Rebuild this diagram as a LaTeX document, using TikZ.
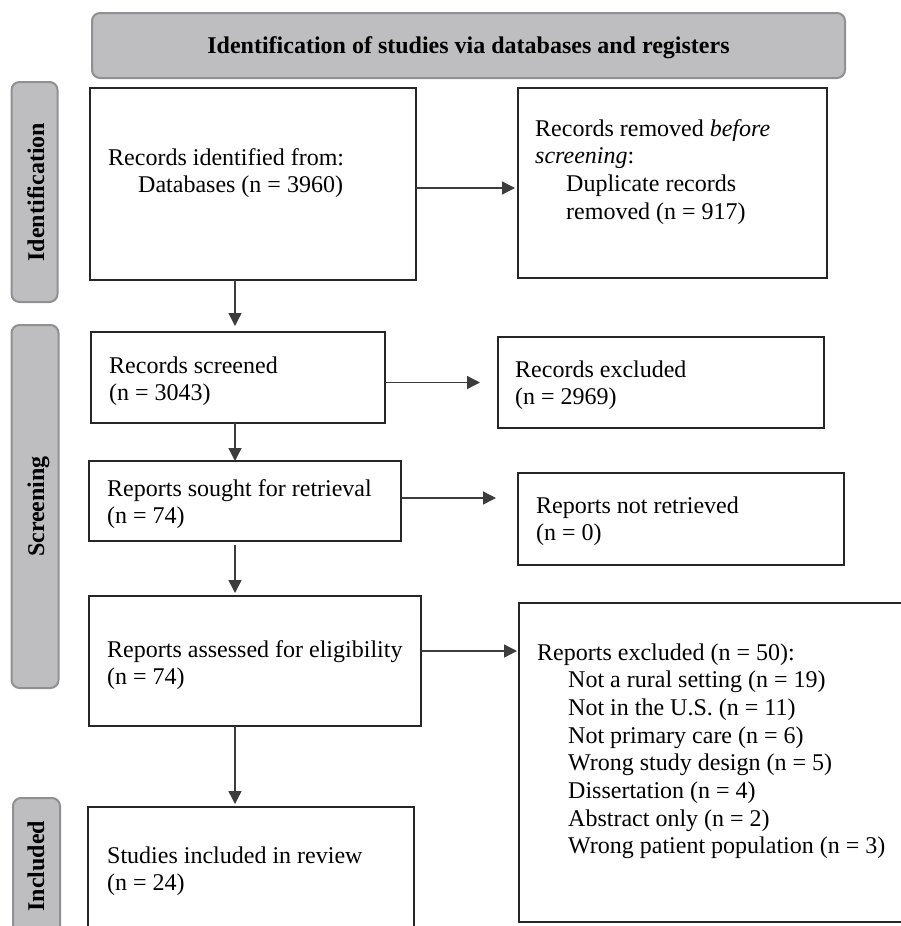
\documentclass[tikz,border=0pt]{standalone}
\usepackage{fontspec}
\setmainfont{Liberation Serif}
\usetikzlibrary{arrows.meta}
\usetikzlibrary{calc}
\definecolor{phasefill}{HTML}{BEBEC0}
\definecolor{phaseline}{HTML}{909092}
\definecolor{depline}{HTML}{3C3C3C}

\begin{document}
\begin{tikzpicture}[
  x=1pt,y=-1pt,
  dep/.style ={
    -{Triangle[length=13pt,width=13pt]},line width=1.4pt,draw=depline
  },
  box/.style 2 args={
    rectangle,
    draw=black!85,
    line width=2pt,
    anchor=north west,
    minimum width=#1,
    minimum height=#2,
    inner sep=0pt,
    outer sep=0pt},
  phase/.style 2 args={
    rectangle,
    rounded corners=8pt,
    draw=phaseline,
    fill=phasefill,
    line width=2pt,
    anchor=north west,
    minimum width=#1,
    minimum height=#2,
    inner sep=0pt,
    outer sep=0pt},
  txt/.style={
    anchor=base west,
    align=left,
    inner sep=0pt,
    font=\fontsize{24}{27.7}\selectfont},
  lbl/.style={
    anchor=base,
    inner sep=0pt,
    font=\fontsize{24}{27.7}\selectfont\bfseries},
]

  \def\ind{\hspace*{31pt}}%
  % text nodes sit on the baseline of their last line

  \clip (0,0) rectangle (901,926);

    % Header and phases
  \node[phase={753}{65}] (head) at (92,13) {};
  \node[lbl] (headtxt) at ($(head.center)+(0,7.5)$) {Identification of studies via databases and registers};

  \node[phase={46}{220}] (phid) at (11.5,82) {};
  \node[phase={47}{363}] (phscr) at (11.5,325) {};
  \node[phase={47}{140}] (phinc) at (13,798) {};
  \node[lbl,rotate=90] (phidtxt) at (44,192) {Identification};
  \node[lbl,rotate=90] (phscrtxt) at (44,506.5) {Screening};
  \node[lbl,rotate=90] (phinctxt) at (44,866) {Included};

    % Left column
  \node[box={326}{192}] (ident) at (90,88) {};
  \node[txt] (identtxt) at (108,192.7) {Records identified from:\\\hspace*{30pt}Databases (n = 3960)};

  \node[box={294}{91}] (scr) at (91,332) {};
  \node[txt] (scrtxt) at (109,400.7) {Records screened\\(n = 3043)};

  \node[box={312}{80}] (sought) at (89,461) {};
  \node[txt] (soughttxt) at (107,523.7) {Reports sought for retrieval\\(n = 74)};

  \node[box={332}{130}] (assess) at (89,596) {};
  \node[txt] (assesstxt) at (107,684.7) {Reports assessed for eligibility\\(n = 74)};

  \node[box={326}{160}] (incl) at (88,807) {};
  \node[txt] (incltxt) at (107,890.7) {Studies included in review\\(n = 24)};

    % Right column
  \node[box={309}{190}] (removed) at (518,88) {};
  \node[txt] (removedtxt) at (535,219.1) {Records removed \textit{before}\\\textit{screening}:\\\ind Duplicate records\\\ind removed (n = 917)};

  \node[box={326}{91}] (recexcl) at (498,337) {};
  \node[txt] (recexcltxt) at (515,404.7) {Records excluded\\(n = 2969)};

  \node[box={326}{92}] (notret) at (518,473) {};
  \node[txt] (notrettxt) at (536,540.7) {Reports not retrieved\\(n = 0)};

  \node[box={400}{319}] (repexcl) at (519,603) {};
  \node[txt] (repexcltxt) at (537,853.9) {Reports excluded (n = 50):\\
    \ind Not a rural setting (n = 19)\\
    \ind Not in the U.S. (n = 11)\\
    \ind Not primary care (n = 6)\\
    \ind Wrong study design (n = 5)\\
    \ind Dissertation (n = 4)\\
    \ind Abstract only (n = 2)\\
    \ind Wrong patient population (n = 3)};

    % Connectors
  \coordinate (spine) at (235,0);
  \draw[dep,shorten >=6pt] (ident.south -| spine) to (scr.north -| spine);
  \draw[dep] (scr.south -| spine) to (sought.north -| spine);
  \draw[dep,shorten <=4pt,shorten >=3pt] (sought.south -| spine) to (assess.north -| spine);
  \draw[dep,shorten >=3pt] (assess.south -| spine) to (incl.north -| spine);

  \draw[dep,shorten >=3pt] ($(ident.east)+(0,4)$) to ($(ident.east -| removed.west)+(0,4)$);
  \draw[dep,shorten >=18pt] (scr.east |- recexcl.west) to (recexcl.west);
  \draw[dep,shorten >=22pt] ($(sought.east)+(0,-3)$) to ($(sought.east -| notret.west)+(0,-3)$);
  \draw[dep,shorten >=2pt] ($(assess.east)+(0,-10)$) to ($(assess.east -| repexcl.west)+(0,-10)$);

\end{tikzpicture}
\end{document}
